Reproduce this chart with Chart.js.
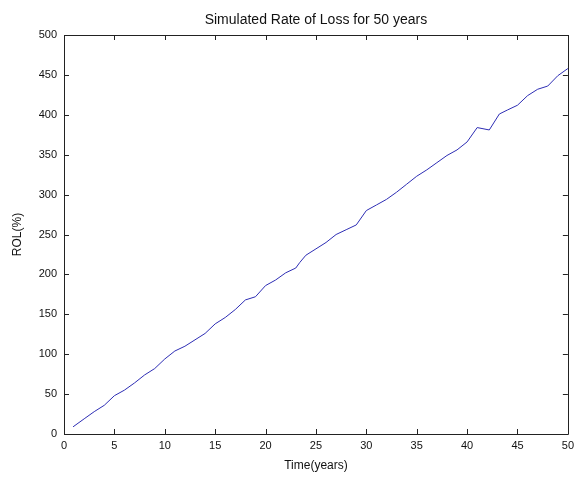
<!DOCTYPE html>
<html>
<head>
<meta charset="utf-8">
<script src="https://cdn.jsdelivr.net/npm/chart.js@4/dist/chart.umd.min.js"></script>
<style>
  html, body { margin: 0; padding: 0; background: #fff; }
  #wrap { width: 579px; height: 477px; }
</style>
</head>
<body>
<div id="wrap"><canvas id="mainChart" width="579" height="477"></canvas></div>
<script>
const years = [0.9, 2, 3, 4, 5, 6, 7, 8, 9, 10, 11, 12, 13, 14, 15, 16, 17, 18, 19, 20,
    21, 22, 23, 23.4, 24, 25, 26, 27, 28, 29, 30, 31, 32, 33, 34, 35, 36, 37, 38, 39, 40,
    41, 42.2, 43.2, 44, 45, 46, 47, 48, 49, 50]
const rol = [9, 19, 28, 36, 48, 55, 64, 74, 82, 94, 104, 110, 118, 126, 138, 146, 156, 168, 172, 186,
    193, 202, 208, 215, 224, 232, 240, 250, 256, 262, 280, 287, 294, 303, 313, 323, 331, 340, 349, 356, 366,
    384, 381, 401, 406, 412, 424, 432, 436, 449, 458]
const xTicks = [0, 5, 10, 15, 20, 25, 30, 35, 40, 45, 50]
const yTicks = [0, 50, 100, 150, 200, 250, 300, 350, 400, 450, 500]

const FONT = "'Liberation Sans', Arial, sans-serif"

// matlab style box with inward ticks
const boxPlugin = {
    id: 'box',
    afterDraw(chart) {
        const ctx = chart.ctx
        const a = chart.chartArea
        const xs = chart.scales.x
        const ys = chart.scales.y
        ctx.save()
        ctx.strokeStyle = '#222'
        ctx.lineWidth = 1
        ctx.beginPath()
        ctx.rect(Math.round(a.left) + 0.5, Math.round(a.top) + 0.5,
            Math.round(a.right - a.left), Math.round(a.bottom - a.top))
        xTicks.forEach((t) => {
            const px = Math.round(xs.getPixelForValue(t)) + 0.5
            ctx.moveTo(px, a.bottom)
            ctx.lineTo(px, a.bottom - 5)
            ctx.moveTo(px, a.top)
            ctx.lineTo(px, a.top + 5)
        })
        yTicks.forEach((t) => {
            const py = Math.round(ys.getPixelForValue(t)) + 0.5
            ctx.moveTo(a.left, py)
            ctx.lineTo(a.left + 5, py)
            ctx.moveTo(a.right, py)
            ctx.lineTo(a.right - 5, py)
        })
        ctx.stroke()
        ctx.restore()
    }
}

function setupCanvas() {
    const ctx = document.getElementById('mainChart').getContext('2d')
    const points = years.map((x, i) => ({x: x, y: rol[i]}))
    const config = {
        type: 'line',
        data: {
            datasets: [{
                label: 'ROL',
                data: points,
                borderColor: 'rgb(45,45,180)',
                borderWidth: 1,
                pointRadius: 0,
                tension: 0,
                fill: false
            }]
        },
        options: {
            responsive: false,
            animation: false,
            layout: {padding: {left: 0, right: 7, top: 0, bottom: 0}},
            scales: {
                x: {
                    type: 'linear',
                    min: 0,
                    max: 50,
                    afterBuildTicks: (s) => { s.ticks = xTicks.map((v) => ({value: v})) },
                    afterFit: (s) => { s.height = 43 },
                    grid: {display: false, drawTicks: false},
                    border: {display: false},
                    ticks: {color: '#111', padding: 5, font: {family: FONT, size: 11}, maxRotation: 0},
                    title: {display: true, text: 'Time(years)', color: '#111',
                        font: {family: FONT, size: 12}, padding: {top: 0, bottom: 4}}
                },
                y: {
                    type: 'linear',
                    min: 0,
                    max: 500,
                    afterBuildTicks: (s) => { s.ticks = yTicks.map((v) => ({value: v})) },
                    afterFit: (s) => { s.width = 64 },
                    grid: {display: false, drawTicks: false},
                    border: {display: false},
                    ticks: {color: '#111', padding: 7, font: {family: FONT, size: 11}},
                    title: {display: true, text: 'ROL(%)', color: '#111',
                        font: {family: FONT, size: 12}, padding: {top: 10, bottom: 0}}
                }
            },
            plugins: {
                legend: {display: false},
                tooltip: {enabled: false},
                title: {
                    display: true,
                    fullSize: false,
                    text: 'Simulated Rate of Loss for 50 years',
                    color: '#111',
                    font: {family: FONT, size: 14, weight: 'normal'},
                    padding: {top: 12, bottom: 6.2}
                }
            }
        },
        plugins: [boxPlugin]
    }
    return new Chart(ctx, config)
}

const mainChart = setupCanvas()
</script>
</body>
</html>
